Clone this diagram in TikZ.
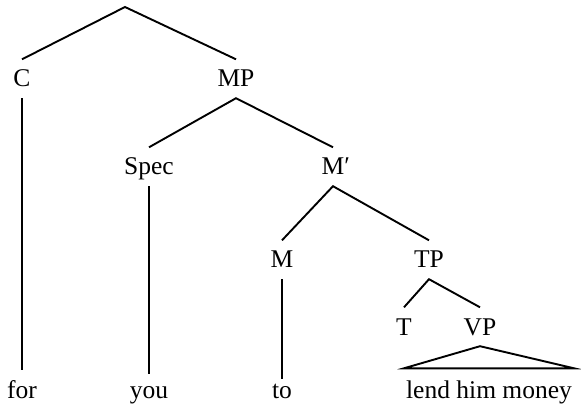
\documentclass[tikz,border=0pt]{standalone}
\usepackage{fontspec}
\setmainfont{Liberation Serif}
\begin{document}
\begin{tikzpicture}[x=1pt,y=-1pt,
  lbl/.style={anchor=base,inner xsep=2pt,inner ysep=11pt,text height=16.5pt,text depth=0pt,
    font=\fontsize{25.5}{30}\selectfont},
  edge/.style={line width=1.9pt}]
\useasboundingbox (0,0) rectangle (581,406);
\coordinate (root) at (125,7);
\node[lbl] (C) at (22,87) {C};
\node[lbl] (MP) at (236,87) {MP};
\node[lbl] (Spec) at (149,175) {Spec};
\node[lbl] (Mbar) at (333,175) {M\rlap{′}};
\node[lbl] (M) at (282,268) {M};
\node[lbl] (TP) at (429,268) {TP};
\node[lbl] (T) at (404,335) {T};
\node[lbl] (VP) at (480,335) {VP};
\node[lbl] (for) at (22,398) {for};
\node[lbl] (you) at (149,398) {you};
\node[lbl] (to) at (282,398) {to};
\node[lbl,inner ysep=13pt] (lhm) at (489,398) {lend him money};
\draw[edge] (C.north) -- (root) -- (MP.north);
\draw[edge] (Spec.north) -- (MP.south) -- (Mbar.north);
\draw[edge] (M.north) -- (Mbar.south) -- (TP.north);
\draw[edge] (T.north) -- (TP.south) -- (VP.north);
\draw[edge] (C.south) -- (for.north);
\draw[edge,shorten >=-4pt] (Spec.south) -- (you.north);
\draw[edge,shorten >=-9pt] (M.south) -- (to.north);
\draw[edge,line join=miter] (VP.south) -- (lhm.north west) -- (lhm.north east) -- cycle;
\end{tikzpicture}
\end{document}
